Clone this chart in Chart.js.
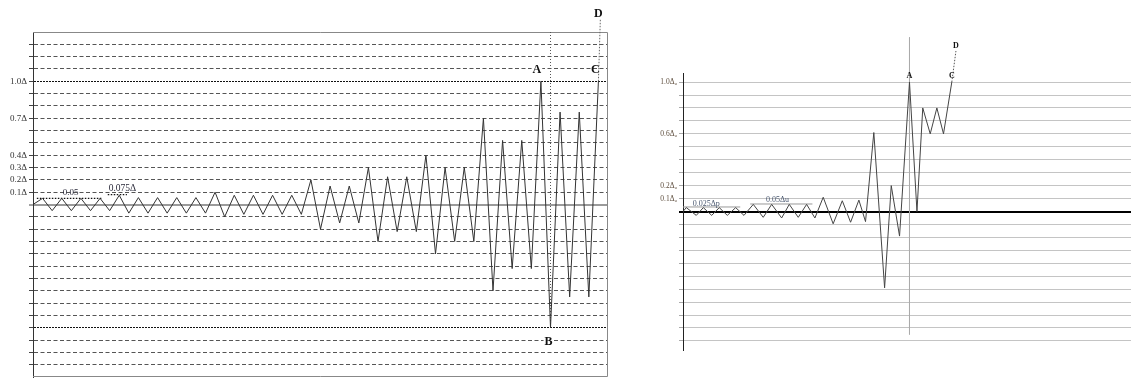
<!DOCTYPE html>
<html lang="en">
<head>
<meta charset="UTF-8">
<title>Cyclic loading protocols</title>
<script src="https://cdn.jsdelivr.net/npm/chart.js"></script>
<style>
  body { margin: 0; background: #fff; }
  .wrap { position: relative; width: 1131px; height: 378px; }
  canvas { position: absolute; top: 0; }
  #left { left: 0; }
  #right { left: 620px; }
</style>
</head>
<body>
<div class="wrap">
  <canvas id="left" width="615" height="378"></canvas>
  <canvas id="right" width="511" height="378"></canvas>
</div>
<script>
// ---- left protocol (x = half cycle count, y = fraction of delta) ----
const leftPeaks = [0.05, 0.05, 0.05, 0.05, 0.075, 0.056, 0.056, 0.056, 0.056, 0.1,
                   0.075, 0.075, 0.075, 0.075, 0.2, 0.15, 0.15, 0.3, 0.225, 0.225,
                   0.4, 0.3, 0.3, 0.7, 0.52, 0.52, 1.0, 0.75, 0.75, 1.0];
const leftTroughs = [-0.05, -0.05, -0.05, -0.05, -0.07, -0.07, -0.07, -0.07, -0.07, -0.1,
                     -0.08, -0.08, -0.08, -0.08, -0.2, -0.15, -0.15, -0.3, -0.22, -0.22,
                     -0.4, -0.3, -0.3, -0.7, -0.52, -0.52, -1.0, -0.75, -0.75];
const leftTickValues = [1.0, 0.7, 0.4, 0.3, 0.2, 0.1];
const leftTickText = ['1.0Δ', '0.7Δ', '0.4Δ', '0.3Δ', '0.2Δ', '0.1Δ'];
const leftToD = [{x: 59, y: 1.0}, {x: 59.2, y: 1.5}];
const leftAtoB = [{x: 54, y: 1.4}, {x: 54, y: -1.0}];
const leftRef005 = [{x: 0.4, y: 0.05}, {x: 7.2, y: 0.05}];
const leftRef0075 = [{x: 7.8, y: 0.08}, {x: 9.8, y: 0.08}];

// ---- right protocol ----
const rightTime = [0, 0.4, 1.6, 2.45, 3.46, 4.37, 5.34, 6.35, 7.35,
                   8.47, 9.67, 10.69, 11.89, 12.81, 13.89, 14.9, 15.9,
                   16.9, 18.1, 19.2, 20.2, 21.2, 22.0,
                   23.0, 24.3, 25.1, 26.1, 27.3,
                   28.2, 28.9, 29.8, 30.6, 31.4, 32.4];
const rightDisp = [0, 0.03, -0.03, 0.03, -0.03, 0.03, -0.03, 0.03, -0.03,
                   0.055, -0.045, 0.055, -0.05, 0.055, -0.045, 0.055, -0.05,
                   0.11, -0.095, 0.083, -0.083, 0.088, -0.078,
                   0.61, -0.59, 0.2, -0.19, 1.0,
                   0, 0.8, 0.6, 0.8, 0.6, 1.0];
const rightTickValues = [1.0, 0.6, 0.2, 0.1];
const rightTickText = ['1.0Δᵤ', '0.6Δᵤ', '0.2Δᵤ', '0.1Δᵤ'];
const rightToD = [{x: 32.4, y: 1.0}, {x: 32.9, y: 1.24}];
const rightAline = [{x: 27.3, y: 1.345}, {x: 27.3, y: -0.95}];
const rightRef0025 = [{x: 0, y: 0.035}, {x: 6.9, y: 0.035}];
const rightRef005 = [{x: 8.1, y: 0.058}, {x: 15.6, y: 0.058}];

const near = (a, b) => Math.abs(a - b) < 1e-6;
const serif = '"Liberation Serif", "Times New Roman", serif';

const leftPoints = [{x: 0, y: 0}];
leftPeaks.forEach((p, i) => {
    leftPoints.push({x: 2 * i + 1, y: p});
    if (i < leftTroughs.length) leftPoints.push({x: 2 * i + 2, y: leftTroughs[i]});
});
const rightPoints = rightTime.map((t, i) => ({x: t, y: rightDisp[i]}));

// text labels placed through the scales
function marksPlugin(items) {
    return {
        id: 'marks',
        afterDatasetsDraw(chart) {
            const {ctx, scales: {x, y}} = chart;
            ctx.save();
            items.forEach(m => {
                const px = x.getPixelForValue(m.x) + (m.dx || 0);
                const py = y.getPixelForValue(m.y) + (m.dy || 0);
                ctx.font = m.font;
                ctx.textAlign = m.align || 'center';
                ctx.textBaseline = m.baseline || 'middle';
                if (m.bg) {
                    const w = ctx.measureText(m.text).width;
                    ctx.fillStyle = '#fff';
                    ctx.fillRect(px - w / 2 - 1, py - 5, w + 2, 10);
                }
                ctx.fillStyle = m.color || '#111';
                ctx.fillText(m.text, px, py);
            });
            ctx.restore();
        }
    };
}

const framePlugin = {
    id: 'frame',
    beforeDatasetsDraw(chart) {
        const {ctx, chartArea: a} = chart;
        ctx.save();
        ctx.strokeStyle = '#888';
        ctx.lineWidth = 1;
        ctx.beginPath();
        ctx.moveTo(a.left, a.top + 0.5);
        ctx.lineTo(a.right - 0.5, a.top + 0.5);
        ctx.lineTo(a.right - 0.5, a.bottom - 0.5);
        ctx.lineTo(a.left, a.bottom - 0.5);
        ctx.stroke();
        ctx.restore();
    }
};

function line(data, color, dash, width, extra) {
    return Object.assign({
        data: data, borderColor: color, borderWidth: width || 1, borderDash: dash || [],
        pointRadius: 0, tension: 0, fill: false
    }, extra || {});
}

// left chart
new Chart(document.getElementById('left'), {
    type: 'line',
    data: {
        datasets: [
            line(leftPoints, '#333', [], 1),
            line(leftToD, '#666', [1.5, 1.5], 1, {clip: false}),
            line(leftAtoB, '#555', [1, 2], 1),
            line(leftRef005, '#111', [1.5, 1.5], 1.2),
            line(leftRef0075, '#111', [1.5, 1.5], 1.2)
        ]
    },
    options: {
        responsive: false,
        animation: false,
        events: [],
        layout: {padding: {top: 32, right: 7, bottom: 1, left: 0}},
        plugins: {legend: {display: false}, tooltip: {enabled: false}},
        scales: {
            x: {type: 'linear', min: 0, max: 60, display: false},
            y: {
                min: -1.4, max: 1.4,
                afterFit(s) { s.width = 33; s.paddingTop = 0; s.paddingBottom = 0; },
                afterBuildTicks(s) { s.ticks = s.ticks.filter(t => Math.abs(t.value) < 1.35); },
                ticks: {
                    stepSize: 0.1, autoSkip: false, padding: 2, color: '#333',
                    font: {family: serif, size: 9},
                    callback(v) {
                        const i = leftTickValues.findIndex(t => near(t, v));
                        return i >= 0 ? leftTickText[i] : '';
                    }
                },
                grid: {
                    color: c => near(c.tick.value, 0) ? '#9a9a9a' : (near(Math.abs(c.tick.value), 1) ? '#111' : '#555'),
                    lineWidth: c => near(c.tick.value, 0) ? 2 : 1,
                    tickLength: 4, tickColor: '#444', tickWidth: 1
                },
                border: {
                    color: '#333', width: 1,
                    dash: c => c.type !== 'tick' ? [] :
                        (near(c.tick.value, 0) ? [] : (near(Math.abs(c.tick.value), 1) ? [2, 1] : [4, 2.5]))
                }
            }
        }
    },
    plugins: [framePlugin, marksPlugin([
        {text: 'A', x: 53, y: 1.0, dx: -4, dy: -11, font: 'bold 12px ' + serif, bg: true},
        {text: 'C', x: 59, y: 1.0, dx: -3, dy: -11, font: 'bold 12px ' + serif},
        {text: 'D', x: 59.2, y: 1.5, dx: -2, dy: -6, font: 'bold 12px ' + serif},
        {text: 'B', x: 54, y: -1.0, dx: -2, dy: 14, font: 'bold 12px ' + serif, bg: true},
        {text: '0.05', x: 3.1, y: 0.05, dy: -3, align: 'left', baseline: 'alphabetic', font: '9px ' + serif, color: '#2a2a3a'},
        {text: '0.075Δ', x: 7.9, y: 0.08, dy: -3.5, align: 'left', baseline: 'alphabetic', font: '9.5px ' + serif, color: '#2a2a3a'}
    ])]
});

// right chart
new Chart(document.getElementById('right'), {
    type: 'line',
    data: {
        datasets: [
            line(rightPoints, '#444', [], 1),
            line(rightToD, '#555', [1.5, 1.5], 1, {clip: false}),
            line(rightAline, '#aaa', [], 1, {clip: false}),
            line(rightRef0025, '#999', [], 1),
            line(rightRef005, '#999', [], 1)
        ]
    },
    options: {
        responsive: false,
        animation: false,
        events: [],
        layout: {padding: {top: 73, right: 0, bottom: 28, left: 0}},
        plugins: {legend: {display: false}, tooltip: {enabled: false}},
        scales: {
            x: {type: 'linear', min: 0, max: 54, display: false},
            y: {
                min: -1.07, max: 1.07,
                afterFit(s) { s.width = 63; s.paddingTop = 0; s.paddingBottom = 0; },
                afterBuildTicks(s) { s.ticks = s.ticks.filter(t => Math.abs(t.value) < 1.01); },
                ticks: {
                    stepSize: 0.1, autoSkip: false, padding: 2, color: '#5e4e3e',
                    font: {family: serif, size: 7.5},
                    callback(v) {
                        const i = rightTickValues.findIndex(t => near(t, v));
                        return i >= 0 ? rightTickText[i] : '';
                    }
                },
                grid: {
                    color: c => near(c.tick.value, 0) ? '#000' : '#c4c4c4',
                    lineWidth: c => near(c.tick.value, 0) ? 2 : 1,
                    tickLength: 4,
                    tickColor: c => near(c.tick.value, 0) ? '#000' : '#aaa'
                },
                border: {color: '#222', width: 1, dash: []}
            }
        }
    },
    plugins: [marksPlugin([
        {text: 'A', x: 27.3, y: 1.0, dy: -6.5, font: 'bold 8px ' + serif},
        {text: 'C', x: 32.4, y: 1.0, dy: -6.5, font: 'bold 8px ' + serif},
        {text: 'D', x: 32.9, y: 1.24, dy: -5.5, font: 'bold 8px ' + serif},
        {text: '0.025Δp', x: 1.17, y: 0.035, dy: -1, align: 'left', baseline: 'alphabetic', font: '8px ' + serif, color: '#4a5870'},
        {text: '0.05Δu', x: 10, y: 0.058, dy: -2, align: 'left', baseline: 'alphabetic', font: '8px ' + serif, color: '#4a5870'}
    ])]
});
</script>
</body>
</html>
